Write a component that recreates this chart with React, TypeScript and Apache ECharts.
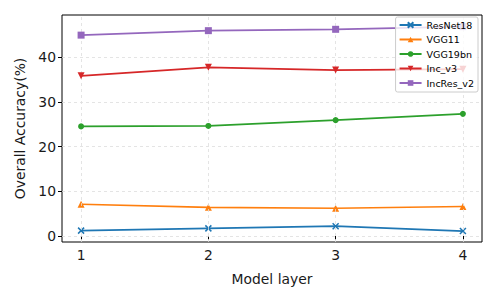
import React, { useEffect, useRef } from "react";
import * as echarts from "echarts";

const layers = [1, 2, 3, 4];
const resnet18 = [1.2, 1.7, 2.2, 1.1];
const vgg11 = [7.1, 6.4, 6.2, 6.6];
const vgg19bn = [24.5, 24.6, 25.9, 27.3];
const incV3 = [35.8, 37.7, 37.1, 37.3];
const incResV2 = [44.9, 45.9, 46.2, 46.8];
const yTicks = [0, 10, 20, 30, 40];

const seriesNames = ["ResNet18", "VGG11", "VGG19bn", "Inc_v3", "IncRes_v2"];
const colors = ["#1f77b4", "#ff7f0e", "#2ca02c", "#d62728", "#9467bd"];

export default function App() {
  const ref = useRef<HTMLDivElement>(null);
  useEffect(() => {
    const chart = echarts.init(ref.current!, null, { renderer: "svg" });
    const font = "DejaVu Sans";
    const pair = (arr: number[]) => layers.map((x, i) => [x, arr[i]]);
    const gridLine = { color: "#dddddd", type: [3, 3], width: 0.8 };
    const mk = (
      idx: number,
      data: number[],
      symbol: string,
      size: number,
      extra: any = {}
    ) => ({
      type: "line",
      name: seriesNames[idx],
      data: pair(data),
      symbol,
      symbolSize: size,
      lineStyle: { color: colors[idx], width: 1.7 },
      itemStyle: { color: colors[idx] },
      z: 3 + idx,
      ...extra,
    });
    chart.setOption({
      animation: false,
      grid: {
        left: 62,
        right: 18,
        top: 15,
        bottom: 58,
        show: true,
        borderColor: "#000",
        borderWidth: 1,
      },
      legend: {
        orient: "vertical",
        right: 22,
        top: 17,
        z: 20,
        itemWidth: 22,
        itemHeight: 7,
        itemGap: 4.5,
        padding: [3, 4, 4, 3],
        backgroundColor: "rgba(255,255,255,0.8)",
        borderColor: "#cccccc",
        borderWidth: 1,
        borderRadius: 2,
        textStyle: { fontFamily: font, fontSize: 9.5, color: "#000" },
        data: seriesNames,
      },
      xAxis: {
        type: "value",
        min: 0.85,
        max: 4.15,
        name: "Model layer",
        nameLocation: "middle",
        nameGap: 30,
        nameTextStyle: { fontFamily: font, fontSize: 13.9, color: "#1a1a1a" },
        axisLine: { show: false },
        splitLine: { show: false },
        axisTick: {
          show: true,
          customValues: layers,
          length: 4,
          lineStyle: { color: "#000" },
        },
        axisLabel: {
          customValues: layers,
          fontFamily: font,
          fontSize: 13.9,
          color: "#1a1a1a",
          margin: 6,
        },
      },
      yAxis: {
        type: "value",
        min: -1.34,
        max: 49.4,
        name: "Overall Accuracy(%)",
        nameLocation: "middle",
        nameGap: 34,
        nameTextStyle: { fontFamily: font, fontSize: 13.9, color: "#1a1a1a" },
        axisLine: { show: false },
        splitLine: { show: false },
        axisTick: {
          show: true,
          customValues: yTicks,
          length: 4,
          lineStyle: { color: "#000" },
        },
        axisLabel: {
          customValues: yTicks,
          fontFamily: font,
          fontSize: 13.9,
          color: "#1a1a1a",
          margin: 6,
        },
      },
      series: [
        {
          type: "line",
          name: "_grid",
          data: [],
          silent: true,
          z: 1,
          markLine: {
            silent: true,
            symbol: "none",
            label: { show: false },
            lineStyle: gridLine,
            emphasis: { disabled: true },
            data: [
              ...layers.map((v) => ({ xAxis: v })),
              ...yTicks.map((v) => ({ yAxis: v })),
            ],
          },
        },
        mk(0, resnet18, "path://M0,0L10,10M10,0L0,10", 6, {
          itemStyle: { color: colors[0], borderColor: colors[0], borderWidth: 1.5 },
        }),
        mk(1, vgg11, "triangle", 7),
        mk(2, vgg19bn, "circle", 6),
        mk(3, incV3, "triangle", 7, { symbolRotate: 180 }),
        mk(4, incResV2, "rect", 7),
      ],
    });
    return () => chart.dispose();
  }, []);
  return (
    <div
      ref={ref}
      style={{ position: "fixed", left: 0, top: 0, width: 500, height: 300, background: "#fff" }}
    />
  );
}
